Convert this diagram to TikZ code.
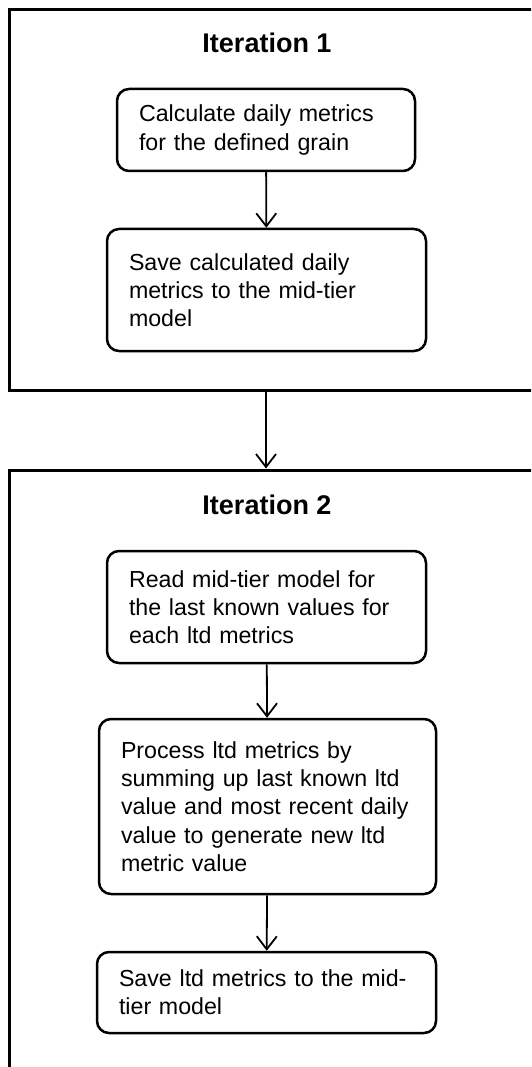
\documentclass[tikz,border=0pt]{standalone}
\usepackage{fontspec}
\setmainfont{Liberation Sans}
\usepackage{tikz}
\usetikzlibrary{arrows.meta}

\begin{document}
\begin{tikzpicture}[x=1pt,y=-1pt,
    frame/.style={draw,line width=3pt,minimum width=524pt,inner sep=0pt},
    title/.style={font=\fontsize{27}{32}\selectfont\bfseries},
    stepbox/.style={draw,line width=2.5pt,rounded corners=12pt,align=left,
        inner xsep=22pt,inner ysep=0pt,font=\fontsize{23.2}{28.2}\selectfont},
    flow/.style={-{Straight Barb[length=13pt,width=20pt,line width=1.8pt]},line width=1.8pt}]
          \useasboundingbox (0,0) rectangle (531,1067);
          \clip (0,0) rectangle (531,1067);
          % iteration 1
          \node[frame,minimum height=380pt] (iterA) at (271.5,200) {};
          \node[title] (titleA) at (267,43) {Iteration 1};
          \node[stepbox,text width=254pt,minimum height=82pt] (calc) at (266,130)
              {Calculate daily metrics\\for the defined grain};
          \node[stepbox,text width=275pt,minimum height=122pt] (savedaily) at (266.5,290)
              {Save calculated daily\\metrics to the mid-tier\\model};
          % line between calculate and save
          \draw[flow] (calc) -- (savedaily);
          % iteration 2
          \node[frame,minimum height=605pt] (iterB) at (271.5,772.5) {};
          \node[title] (titleB) at (267,505) {Iteration 2};
          \node[stepbox,text width=275pt,minimum height=112pt] (read) at (266.5,607)
              {Read mid-tier model for\\the last known values for\\each ltd metrics};
          \node[stepbox,text width=293pt,minimum height=175pt] (process) at (267.5,806.5)
              {Process ltd metrics by\\summing up last known ltd\\value and most recent daily\\value to generate new ltd\\metric value};
          \node[stepbox,text width=295pt,minimum height=81pt] (saveltd) at (266.5,992.5)
              {Save ltd metrics to the mid-\\tier model};
          % lines inside iteration 2
          \draw[flow] (read) -- (process);
          \draw[flow] (process) -- (saveltd);
          % line between the two iterations
          \draw[flow] (iterA.south -| calc) -- (iterB.north -| calc);
        \end{tikzpicture}
\end{document}
